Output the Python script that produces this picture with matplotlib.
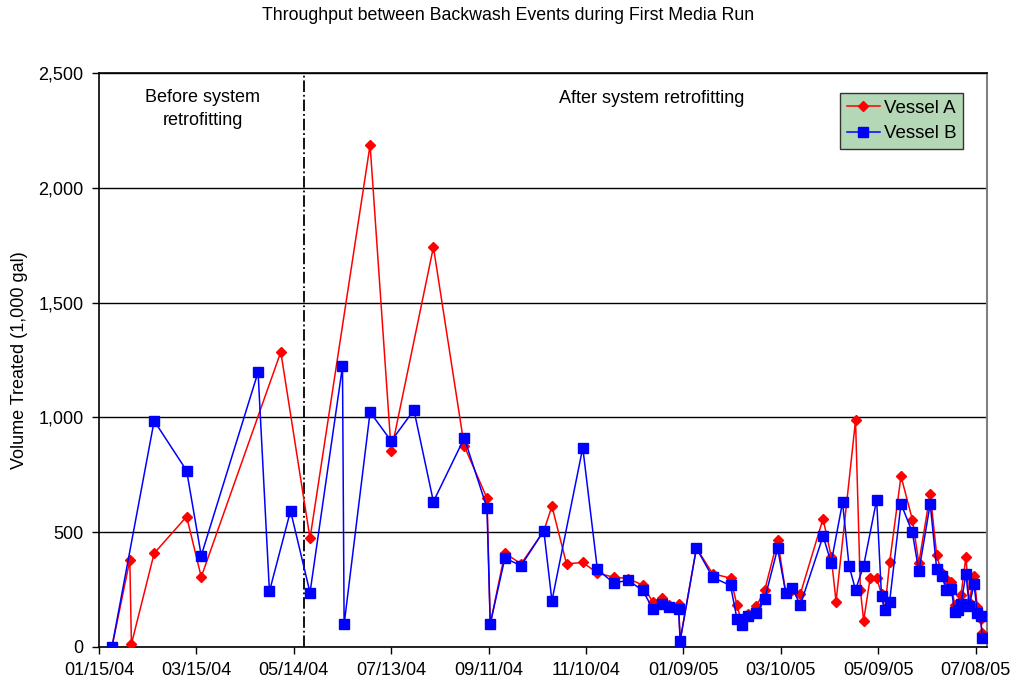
import matplotlib
matplotlib.use("Agg")
import matplotlib.pyplot as plt
import matplotlib.dates as mdates
import matplotlib.ticker as mticker
import pandas as pd

plt.rcParams['font.family'] = ['Liberation Sans', 'DejaVu Sans']

# Vessel A (red diamonds)
vessel_a_dates = [
    "2004-01-23", "2004-02-03", "2004-02-04", "2004-02-18", "2004-03-09", "2004-03-18",
    "2004-05-06", "2004-05-24", "2004-06-30", "2004-07-13", "2004-08-08", "2004-08-27",
    "2004-09-10", "2004-09-12", "2004-09-21", "2004-10-01", "2004-10-15", "2004-10-20",
    "2004-10-29", "2004-11-08", "2004-11-17", "2004-11-27", "2004-12-06", "2004-12-15",
    "2004-12-21", "2004-12-27", "2004-12-31", "2005-01-06", "2005-01-07", "2005-01-17",
    "2005-01-27", "2005-02-07", "2005-02-11", "2005-02-14", "2005-02-18", "2005-02-23",
    "2005-02-28", "2005-03-08", "2005-03-13", "2005-03-17", "2005-03-22", "2005-04-05",
    "2005-04-10", "2005-04-13", "2005-04-25", "2005-04-28", "2005-04-30", "2005-05-04",
    "2005-05-08", "2005-05-11", "2005-05-13", "2005-05-16", "2005-05-23", "2005-05-30",
    "2005-06-03", "2005-06-10", "2005-06-14", "2005-06-17", "2005-06-20", "2005-06-23",
    "2005-06-25", "2005-06-29", "2005-07-02", "2005-07-04", "2005-07-07", "2005-07-09",
    "2005-07-11", "2005-07-12",
]
vessel_a_volume = [
    0, 378, 13, 408, 568, 305,
    1285, 473, 2187, 853, 1742, 875,
    648, 100, 409, 362, 505, 613,
    362, 368, 322, 304, 298, 269,
    197, 215, 182, 186, 30, 431,
    319, 300, 182, 100, 143, 179,
    246, 467, 237, 250, 231, 559,
    394, 198, 987, 246, 115, 300,
    301, 230, 160, 368, 744, 555,
    366, 668, 400, 322, 296, 281,
    183, 227, 394, 198, 310, 176,
    121, 60,
]

# Vessel B (blue squares)
vessel_b_dates = [
    "2004-01-23", "2004-02-18", "2004-03-09", "2004-03-18", "2004-04-22", "2004-04-29",
    "2004-05-12", "2004-05-24", "2004-06-13", "2004-06-14", "2004-06-30", "2004-07-13",
    "2004-07-27", "2004-08-08", "2004-08-27", "2004-09-10", "2004-09-12", "2004-09-21",
    "2004-10-01", "2004-10-15", "2004-10-20", "2004-11-08", "2004-11-17", "2004-11-27",
    "2004-12-06", "2004-12-15", "2004-12-21", "2004-12-27", "2004-12-31", "2005-01-06",
    "2005-01-07", "2005-01-17", "2005-01-27", "2005-02-07", "2005-02-11", "2005-02-14",
    "2005-02-18", "2005-02-23", "2005-02-28", "2005-03-08", "2005-03-13", "2005-03-17",
    "2005-03-22", "2005-04-05", "2005-04-10", "2005-04-17", "2005-04-21", "2005-04-25",
    "2005-04-30", "2005-05-08", "2005-05-11", "2005-05-13", "2005-05-16", "2005-05-23",
    "2005-05-30", "2005-06-03", "2005-06-10", "2005-06-14", "2005-06-17", "2005-06-20",
    "2005-06-23", "2005-06-25", "2005-06-27", "2005-06-29", "2005-07-02", "2005-07-04",
    "2005-07-07", "2005-07-09", "2005-07-11", "2005-07-12",
]
vessel_b_volume = [
    0, 985, 768, 398, 1197, 242,
    593, 237, 1222, 98, 1023, 897,
    1032, 633, 910, 606, 100, 387,
    354, 507, 201, 868, 338, 279,
    290, 246, 167, 188, 172, 165,
    28, 431, 303, 268, 122, 96,
    134, 147, 208, 429, 237, 256,
    183, 483, 367, 630, 354, 249,
    354, 641, 220, 159, 198, 624,
    499, 329, 624, 339, 310, 250,
    252, 154, 162, 188, 319, 179,
    274, 147, 135, 41,
]

retrofit_date = "2004-05-20"
tick_dates = pd.date_range("2004-01-15", periods=10, freq="60D")

fig = plt.figure(figsize=(10.16, 6.89), dpi=100)
ax = fig.add_axes([0.0974, 0.061, 0.8741, 0.833])

ax.plot(pd.to_datetime(vessel_a_dates), vessel_a_volume, color='#FF0000', lw=1.1,
        marker='D', ms=5.5, label='Vessel A', zorder=3)
ax.plot(pd.to_datetime(vessel_b_dates), vessel_b_volume, color='#0000FF', lw=1.1,
        marker='s', ms=6.5, label='Vessel B', zorder=4)

ax.axvline(pd.Timestamp(retrofit_date), color='black', lw=1.3, ls='-.', zorder=2)

ax.set_xlim(pd.Timestamp("2004-01-15"), pd.Timestamp("2005-07-15"))
ax.set_ylim(0, 2500)
ax.set_xticks(tick_dates)
ax.xaxis.set_major_formatter(mdates.DateFormatter("%m/%d/%y"))
ax.yaxis.set_major_locator(mticker.MultipleLocator(500))
ax.yaxis.set_major_formatter(mticker.FuncFormatter(lambda v, p: f"{int(v):,}"))
ax.tick_params(labelsize=13, direction='out', length=5, width=1, pad=6)
ax.grid(axis='y', color='black', lw=1, zorder=1)

for s in ['left', 'bottom', 'top']:
    ax.spines[s].set_color('black')
    ax.spines[s].set_linewidth(1.2)
ax.spines['right'].set_color('#808080')
ax.spines['right'].set_linewidth(1.5)

ax.text(0.117, 0.937, "Before system\nretrofitting", transform=ax.transAxes,
        ha='center', va='center', fontsize=13, linespacing=1.45)
ax.text(0.622, 0.955, "After system retrofitting", transform=ax.transAxes,
        ha='center', va='center', fontsize=13)

leg = ax.legend(loc='upper left', bbox_to_anchor=(840 / 1016, 1 - 93 / 689),
                bbox_transform=fig.transFigure, fontsize=13.5, frameon=True,
                fancybox=False, borderpad=0.35, handlelength=1.8, handletextpad=0.2,
                labelspacing=0.45, borderaxespad=0)
leg.get_frame().set_facecolor('#B4D7B6')
leg.get_frame().set_edgecolor('#333333')
leg.get_frame().set_linewidth(1)
leg.get_frame().set_alpha(1)

fig.text(0.5, 1 - 15 / 689, "Throughput between Backwash Events during First Media Run",
         ha='center', va='center', fontsize=12.8)
fig.text(20 / 1016, 1 - 360 / 689, "Volume Treated (1,000 gal)", rotation=90,
         ha='center', va='center', fontsize=13)

fig.savefig("out.png", dpi=100)
